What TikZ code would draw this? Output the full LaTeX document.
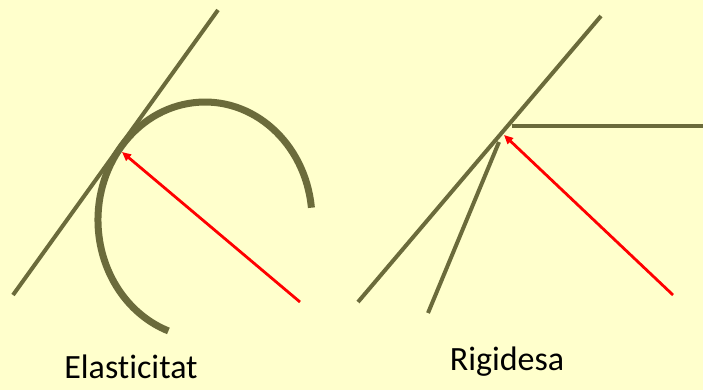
\documentclass[tikz,border=0pt]{standalone}
\usepackage{fontspec}
\setmainfont{Carlito}[Ligatures=NoCommon]
\usetikzlibrary{arrows.meta}
\definecolor{paper}{HTML}{FFFFCC}
\definecolor{olive}{HTML}{6B6B3B}
\tikzset{
  bar/.style={draw=olive, line width=4pt},
  spring/.style={draw=olive, line width=7pt},
  force/.style={draw=red, line width=2.8pt, -{Triangle[length=9pt,width=8pt]}},
  label/.style={font=\fontsize{34}{38}\selectfont, inner sep=0pt}
}
\begin{document}
\begin{tikzpicture}[x=1pt, y=-1pt]
	\fill[paper] (0,0) rectangle (703,390);
	\useasboundingbox (0,0) rectangle (703,390);

	% elastic case: bent arc, tangent line, pushing force
	\coordinate (arcR) at (311.4,207.7);
	\draw[spring] (arcR) arc[start angle=-6, end angle=-250, x radius=107, y radius=118];
	\coordinate (tanA) at (13,295);
	\coordinate (tanB) at (218,10);
	\draw[bar] (tanA) -- (tanB);
	\coordinate (fL0) at (300,302);
	\coordinate (fL1) at (122,152);
	\draw[force] (fL0) -- (fL1);
	\node[label, anchor=base] (elas) at (131,378) {Elasticitat};

	% rigid case: two struts and a horizontal bar
	\coordinate (rA) at (358,302);
	\coordinate (rB) at (601,16);
	\draw[bar] (rA) -- (rB);
	\coordinate (sA) at (428,313);
	\coordinate (sB) at (499,142);
	\draw[bar] (sA) -- (sB);
	\coordinate (hA) at (512,126);
	\coordinate (hB) at (703,126);
	\draw[bar] (hA) -- (hB);
	\coordinate (fR0) at (673,295);
	\coordinate (fR1) at (504,135);
	\draw[force] (fR0) -- (fR1);
	\node[label, anchor=base] (rigi) at (507,370) {Rigidesa};
\end{tikzpicture}
\end{document}
